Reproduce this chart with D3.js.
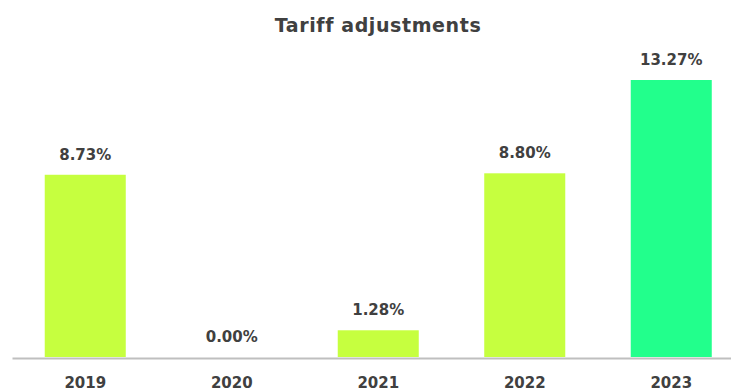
<!DOCTYPE html>
<html>
<head>
<meta charset="utf-8">
<script src="https://cdn.jsdelivr.net/npm/d3@7"></script>
<style>
  html, body { margin: 0; padding: 0; background: #fff; }
  svg { display: block; }
  text { font-family: "DejaVu Sans", sans-serif; font-weight: 700; fill: #404040; }
</style>
</head>
<body>
<svg id="chart" width="731" height="392"></svg>
<script>
// Tariff adjustment per year (percent)
const years = ["2019", "2020", "2021", "2022", "2023"];
const adjustments = [8.73, 0.00, 1.28, 8.80, 13.27];
const barColors = ["#c6ff3f", "#c6ff3f", "#c6ff3f", "#c6ff3f", "#22ff8c"];
const title = "Tariff adjustments";

const svg = d3.select("#chart");
const baseY = 357;

const x = d3.scaleBand()
  .domain(years)
  .range([12, 744.5])
  .paddingInner(0.447)
  .paddingOuter(0.2235);

const y = d3.scaleLinear()
  .domain([0, 13.27])
  .range([baseY, 80]);

svg.append("text")
  .attr("x", 378)
  .attr("y", 32)
  .attr("text-anchor", "middle")
  .style("font-size", "19px")
  .style("letter-spacing", "0.6px")
  .text(title);

const data = years.map((yr, i) => ({ yr, v: adjustments[i], c: barColors[i] }));

svg.selectAll("rect.bar")
  .data(data)
  .join("rect")
  .attr("class", "bar")
  .attr("x", d => x(d.yr))
  .attr("width", x.bandwidth())
  .attr("y", d => y(d.v))
  .attr("height", d => baseY - y(d.v))
  .attr("fill", d => d.c);

svg.selectAll("text.val")
  .data(data)
  .join("text")
  .attr("class", "val")
  .attr("x", d => x(d.yr) + x.bandwidth() / 2)
  .attr("y", d => y(d.v) - 15)
  .attr("text-anchor", "middle")
  .style("font-size", "15px")
  .text(d => d.v.toFixed(2) + "%");

// baseline axis
const axis = d3.axisBottom(x).tickSize(0).tickPadding(20);
const g = svg.append("g")
  .attr("transform", `translate(0,${baseY})`)
  .call(axis);
g.select(".domain")
  .attr("stroke", "#bfbfbf")
  .attr("stroke-width", 2)
  .attr("transform", "translate(0,1)");
g.selectAll(".tick text")
  .style("font-size", "15px")
  .style("font-family", "'DejaVu Sans', sans-serif")
  .style("font-weight", 700)
  .attr("fill", "#404040");
</script>
</body>
</html>
